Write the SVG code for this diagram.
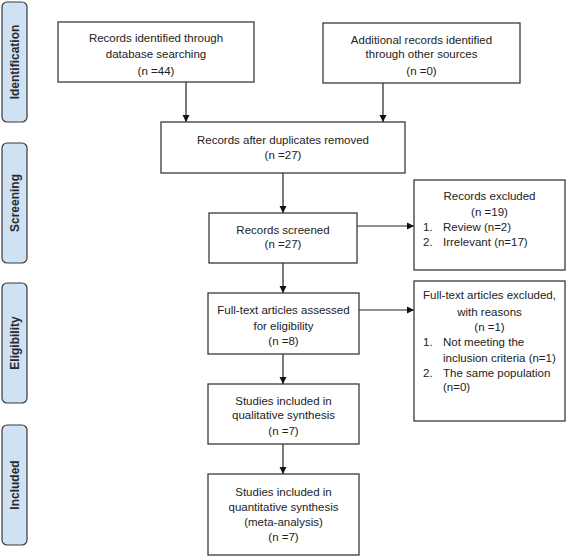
<svg xmlns="http://www.w3.org/2000/svg" width="567" height="558" viewBox="0 0 567 558">
<style>
.box{fill:#fff;stroke:#3a3a3a;stroke-width:1.3}
.phase{fill:#cfe2f3;stroke:#3a3a3a;stroke-width:1.2}
.t{font-family:"Liberation Sans",Arial,sans-serif;font-size:11.5px;fill:#222}
.c{text-anchor:middle}
.p{font-family:"Liberation Sans",Arial,sans-serif;font-size:12px;font-weight:bold;fill:#2a2a2a;text-anchor:middle}
.ln{stroke:#222;stroke-width:1.2;fill:none;marker-end:url(#ah)}
</style>
<defs>
<marker id="ah" markerWidth="8" markerHeight="8" refX="7" refY="4" orient="auto" markerUnits="userSpaceOnUse">
<path d="M0,0.5 L7,4 L0,7.5 Z" fill="#111"/>
</marker>
</defs>
<rect width="567" height="558" fill="#fff"/>
<g id="phase-identification"><rect class="phase" x="2" y="2" width="25" height="120" rx="5"/><text class="p" transform="translate(19,62) rotate(-90)">Identification</text></g>
<g id="phase-screening"><rect class="phase" x="2" y="143" width="25" height="120" rx="5"/><text class="p" transform="translate(19,203) rotate(-90)">Screening</text></g>
<g id="phase-eligibility"><rect class="phase" x="2" y="283" width="25" height="120" rx="5"/><text class="p" transform="translate(19,343) rotate(-90)">Eligibility</text></g>
<g id="phase-included"><rect class="phase" x="2" y="425" width="25" height="120" rx="5"/><text class="p" transform="translate(19,485) rotate(-90)">Included</text></g>

<g id="connectors">
<path class="ln" d="M186,82 V122"/>
<path class="ln" d="M383,83 V122"/>
<path class="ln" d="M283,173 V213"/>
<path class="ln" d="M357,226 H414"/>
<path class="ln" d="M283,263 V293"/>
<path class="ln" d="M359,310 H414"/>
<path class="ln" d="M283,354 V384"/>
<path class="ln" d="M283,444 V474"/>
</g>

<g id="n-db"><rect class="box" x="58" y="22" width="196" height="60"/>
<text class="t c" x="156" y="42">Records identified through</text>
<text class="t c" x="156" y="58">database searching</text>
<text class="t c" x="156" y="75">(n =44)</text></g>

<g id="n-other"><rect class="box" x="323" y="23" width="197" height="60"/>
<text class="t c" x="421.5" y="44">Additional records identified</text>
<text class="t c" x="421.5" y="58">through other sources</text>
<text class="t c" x="421.5" y="75">(n =0)</text></g>

<g id="n-dup"><rect class="box" x="161" y="122" width="244" height="51"/>
<text class="t c" x="283" y="144">Records after duplicates removed</text>
<text class="t c" x="283" y="159">(n =27)</text></g>

<g id="n-screened"><rect class="box" x="209" y="213" width="148" height="50"/>
<text class="t c" x="283" y="234">Records screened</text>
<text class="t c" x="283" y="248">(n =27)</text></g>

<g id="n-excluded"><rect class="box" x="414" y="180" width="151" height="90"/>
<text class="t c" x="489.5" y="200">Records excluded</text>
<text class="t c" x="489.5" y="216">(n =19)</text>
<text class="t" x="423" y="231">1.</text><text class="t" x="443" y="231">Review (n=2)</text>
<text class="t" x="423" y="246">2.</text><text class="t" x="443" y="246">Irrelevant (n=17)</text></g>

<g id="n-fulltext"><rect class="box" x="208" y="293" width="151" height="61"/>
<text class="t c" x="283.5" y="314">Full-text articles assessed</text>
<text class="t c" x="283.5" y="330">for eligibility</text>
<text class="t c" x="283.5" y="345">(n =8)</text></g>

<g id="n-ftexcluded"><rect class="box" x="414" y="281" width="151" height="140"/>
<text class="t c" x="489.5" y="299">Full-text articles excluded,</text>
<text class="t c" x="489.5" y="316">with reasons</text>
<text class="t c" x="489.5" y="331">(n =1)</text>
<text class="t" x="423" y="346">1.</text><text class="t" x="443" y="346">Not meeting the</text>
<text class="t" x="443" y="362">inclusion criteria (n=1)</text>
<text class="t" x="423" y="377">2.</text><text class="t" x="443" y="377">The same population</text>
<text class="t" x="443" y="391">(n=0)</text></g>

<g id="n-qual"><rect class="box" x="208" y="384" width="151" height="60"/>
<text class="t c" x="283.5" y="405">Studies included in</text>
<text class="t c" x="283.5" y="419">qualitative synthesis</text>
<text class="t c" x="283.5" y="435">(n =7)</text></g>

<g id="n-quant"><rect class="box" x="208" y="474" width="151" height="81"/>
<text class="t c" x="283.5" y="496">Studies included in</text>
<text class="t c" x="283.5" y="511">quantitative synthesis</text>
<text class="t c" x="283.5" y="526">(meta-analysis)</text>
<text class="t c" x="283.5" y="541">(n =7)</text></g>
</svg>
